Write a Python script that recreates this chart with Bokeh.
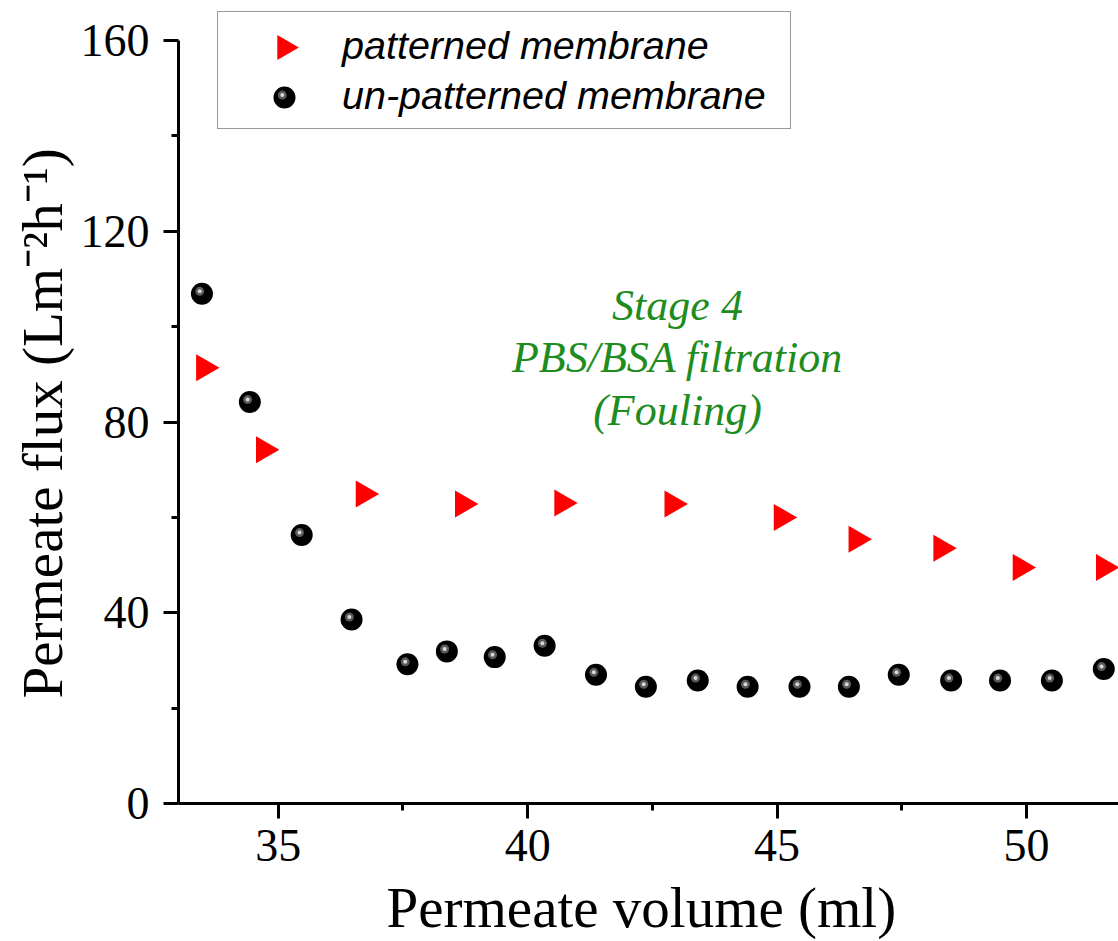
import numpy as np
from bokeh.plotting import figure
from bokeh.models import (ColumnDataSource, Legend, LegendItem, Label,
                          FixedTicker, Range1d)
from bokeh.transform import dodge
from bokeh.embed import file_html
from bokeh.resources import INLINE

# ---- data ----
pat_x = [33.51, 34.71, 36.71, 38.70, 40.69, 42.90, 45.09, 46.59, 48.29, 49.88, 51.55]
pat_y = [91.4, 74.2, 64.9, 62.8, 63.0, 62.8, 60.0, 55.4, 53.5, 49.5, 49.5]

unp_x = [33.47, 34.43, 35.47, 36.47, 37.59, 38.38, 39.34, 40.34, 41.37, 42.37,
         43.41, 44.41, 45.45, 46.44, 47.44, 48.49, 49.47, 50.51, 51.55]
unp_y = [106.9, 84.2, 56.3, 38.6, 29.2, 31.9, 30.7, 33.1, 27.0, 24.5,
         25.8, 24.5, 24.5, 24.5, 27.0, 25.8, 25.8, 25.8, 28.2]

x_ticks = [35, 40, 45, 50]
x_minor = [32.5, 37.5, 42.5, 47.5, 52.5]
y_ticks = [0, 40, 80, 120, 160]
y_minor = [20, 60, 100, 140]

series_labels = ["patterned membrane", "un-patterned membrane"]
note_lines = ["Stage 4", "PBS/BSA filtration", "(Fouling)"]
x_title = "Permeate volume (ml)"
y_title = "Permeate flux (Lm\u207b\u00b2h\u207b\u00b9)"

# ---- layout (pixels) ----
W, H = 1118, 941
frame_left = 178
frame_bottom = 803
top_gap = 40                      # px between frame top and the 160 tick
px_per_x = 49.88
px_per_y = 763 / 160.0
x_start = 33.0
x_end = x_start + (W - frame_left) / px_per_x
y_end = 160 + top_gap / px_per_y
NBSP = "\u00a0"

p = figure(width=W, height=H, output_backend="svg", toolbar_location=None,
           x_range=Range1d(x_start, x_end), y_range=Range1d(0, y_end),
           min_border_left=frame_left, min_border_right=0,
           min_border_top=0, min_border_bottom=H - frame_bottom,
           background_fill_color="white", border_fill_color="white")
p.outline_line_color = None
p.xgrid.grid_line_color = None
p.ygrid.grid_line_color = None

for ax in (p.xaxis[0], p.yaxis[0]):
    ax.axis_line_width = 3
    ax.axis_line_color = "black"
    ax.major_tick_line_width = 3
    ax.minor_tick_line_width = 3
    ax.major_tick_line_color = "black"
    ax.minor_tick_line_color = "black"
    ax.major_tick_out = 15
    ax.major_tick_in = 0
    ax.minor_tick_out = 7
    ax.minor_tick_in = 0
    ax.major_label_text_font = "Liberation Serif"
    ax.major_label_text_font_size = "46px"
    ax.major_label_text_color = "black"
    ax.axis_label_text_font = "Liberation Serif"
    ax.axis_label_text_font_size = "57px"
    ax.axis_label_text_font_style = "normal"
    ax.axis_label_text_color = "black"

p.xaxis.ticker = FixedTicker(ticks=x_ticks, minor_ticks=x_minor)
p.yaxis.ticker = FixedTicker(ticks=y_ticks, minor_ticks=y_minor)
p.yaxis.bounds = (0, 160)
p.xaxis.major_label_standoff = 11
p.xaxis.axis_label_standoff = 12
p.yaxis.major_label_standoff = 14
p.yaxis.axis_label_standoff = 4
# trailing no-break spaces nudge the centred titles to the reference position
p.xaxis.axis_label = x_title + NBSP
p.yaxis.axis_label = y_title + NBSP * 3

# ---- glyphs ----
src_p = ColumnDataSource(dict(x=pat_x, y=pat_y))
src_u = ColumnDataSource(dict(x=unp_x, y=unp_y))

hl_dx = -2.2 / px_per_x
hl_dy = 2.4 / px_per_y


def sphere(source):
    r = p.scatter("x", "y", source=source, marker="circle", size=22,
                  fill_color="black", line_color=None)
    p.scatter(x=dodge("x", hl_dx), y=dodge("y", hl_dy), source=source,
              marker="circle", size=9, fill_color="#5a5a5a", line_color=None)
    p.scatter(x=dodge("x", hl_dx), y=dodge("y", hl_dy), source=source,
              marker="circle", size=4, fill_color="#d8d8d8", line_color=None)
    return r


tri = p.scatter("x", "y", source=src_p, marker="triangle", angle=-np.pi / 2,
                size=27, fill_color="#ff0000", line_color=None)
circ = sphere(src_u)

# ---- legend: box + labels from Legend (transparent), keys drawn beneath ----
leg_left, leg_top, leg_h = 217, 12, 117
dummy_t = p.scatter(x=[], y=[], marker="triangle", fill_alpha=0, line_alpha=0)
dummy_c = p.scatter(x=[], y=[], marker="circle", fill_alpha=0, line_alpha=0)
legend = Legend(items=[LegendItem(label=series_labels[0], renderers=[dummy_t]),
                       LegendItem(label=series_labels[1], renderers=[dummy_c])],
                location=(leg_left - frame_left, frame_bottom - leg_top - leg_h),
                padding=8, spacing=0, margin=0,
                glyph_width=116, glyph_height=50, label_standoff=0,
                label_width=440,
                label_text_font="Liberation Sans", label_text_font_style="italic",
                label_text_font_size="39.5px", label_text_color="black",
                border_line_color="#333333", border_line_width=1.5,
                background_fill_alpha=0.0)
p.add_layout(legend)

key_x = x_start + (284 - frame_left) / px_per_x
key_src_p = ColumnDataSource(dict(x=[key_x], y=[(frame_bottom - 47) / px_per_y]))
key_src_u = ColumnDataSource(dict(x=[key_x], y=[(frame_bottom - 97) / px_per_y]))
p.scatter("x", "y", source=key_src_p, marker="triangle", angle=-np.pi / 2,
          size=25, fill_color="#ff0000", line_color=None)
sphere(key_src_u)

# ---- annotation ----
green = "#1e8c1e"
for line, base in zip(note_lines, [305, 357, 410]):
    p.add_layout(Label(x=677 - frame_left, y=frame_bottom - base,
                       x_units="screen", y_units="screen",
                       text=line, text_font="Liberation Serif",
                       text_font_style="italic", text_font_size="44px",
                       text_color=green, text_align="center",
                       text_baseline="alphabetic"))

open("out.html", "w").write(file_html(p, INLINE))
